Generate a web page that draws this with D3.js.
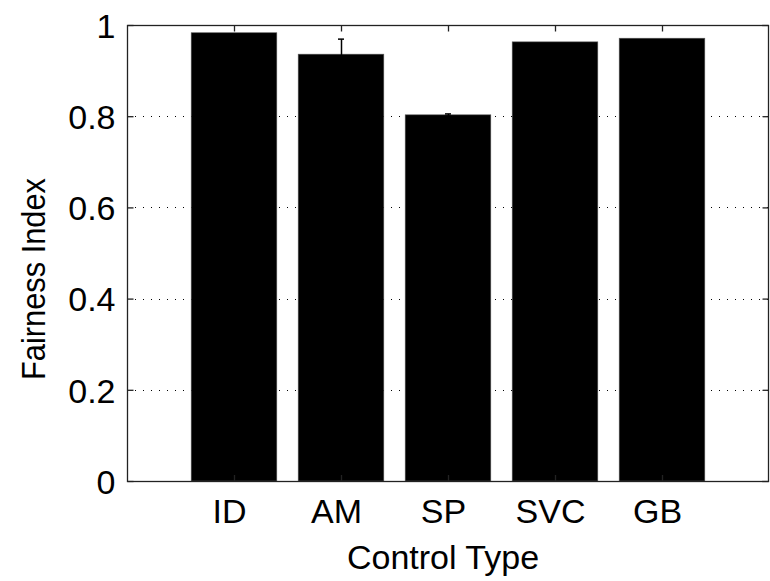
<!DOCTYPE html>
<html>
<head>
<meta charset="utf-8">
<script src="https://cdn.jsdelivr.net/npm/d3@7"></script>
<style>
  html, body { margin: 0; padding: 0; background: #fff; }
  svg { display: block; }
  text { font-family: "Liberation Sans", Arial, Helvetica, sans-serif; fill: #000; }
</style>
</head>
<body>
<svg id="chart" width="770" height="581"></svg>
<script>
const categories = ["ID", "AM", "SP", "SVC", "GB"];
const values = [0.983, 0.936, 0.803, 0.963, 0.971];
const errors = [0, 0.033, 0.002, 0, 0];
const yTicks = [0, 0.2, 0.4, 0.6, 0.8, 1];
const xLabel = "Control Type";
const yLabel = "Fairness Index";

(function () {
const svg = d3.select("#chart");
const mLeft = 127, mRight = 769, mTop = 25, mBottom = 481;
const fontSize = 34;

const x = d3.scaleLinear().domain([0, 6]).range([mLeft, mRight]);
const y = d3.scaleLinear().domain([0, 1]).range([mBottom, mTop]);
const barW = x(0.8) - x(0);

const data = categories.map((c, i) => ({ c, pos: i + 1, v: values[i], e: errors[i] }));

// grid lines (dotted)
svg.append("g").selectAll("line").data(yTicks.filter(t => t > 0 && t < 1)).join("line")
  .attr("x1", mLeft).attr("x2", mRight)
  .attr("y1", d => Math.round(y(d)) + 0.5).attr("y2", d => Math.round(y(d)) + 0.5)
  .attr("stroke", "#000").attr("stroke-width", 1).attr("stroke-dasharray", "1,7");

// bars
svg.append("g").selectAll("rect").data(data).join("rect")
  .attr("x", d => x(d.pos) - barW / 2)
  .attr("y", d => y(d.v))
  .attr("width", barW)
  .attr("height", d => y(0) - y(d.v))
  .attr("fill", "#000")
  .attr("stroke", "#555").attr("stroke-width", 0.6);

// error bars
const eb = svg.append("g").selectAll("g").data(data.filter(d => d.e > 0)).join("g");
eb.append("line")
  .attr("x1", d => Math.round(x(d.pos)) + 0.5).attr("x2", d => Math.round(x(d.pos)) + 0.5)
  .attr("y1", d => y(d.v - d.e)).attr("y2", d => y(d.v + d.e))
  .attr("stroke", "#000").attr("stroke-width", 1.5);
eb.append("line")
  .attr("x1", d => x(d.pos) - 3).attr("x2", d => x(d.pos) + 3)
  .attr("y1", d => y(d.v + d.e)).attr("y2", d => y(d.v + d.e))
  .attr("stroke", "#000").attr("stroke-width", 1.5);

// axes box
svg.append("rect")
  .attr("x", mLeft + 0.5).attr("y", mTop + 0.5)
  .attr("width", mRight - mLeft - 1).attr("height", mBottom - mTop)
  .attr("fill", "none").attr("stroke", "#222").attr("stroke-width", 1.3);

const fmt = d => d === 0 ? "0" : d === 1 ? "1" : d3.format(".1f")(d);

// y axis (left) with inward ticks
const yAxisL = svg.append("g").attr("transform", `translate(${mLeft + 0.5},0)`)
  .call(d3.axisLeft(y).tickValues(yTicks).tickSize(-6).tickPadding(12).tickFormat(fmt));
yAxisL.select(".domain").remove();
yAxisL.selectAll("line").attr("stroke", "#222").attr("stroke-width", 1.3);
yAxisL.selectAll("text").attr("font-size", fontSize).attr("font-family", "Liberation Sans, Arial, sans-serif").attr("dy", "0.36em").attr("fill", "#000");

// y axis (right)
const yAxisR = svg.append("g").attr("transform", `translate(${mRight - 0.5},0)`)
  .call(d3.axisRight(y).tickValues(yTicks).tickSize(-6).tickFormat(""));
yAxisR.select(".domain").remove();
yAxisR.selectAll("line").attr("stroke", "#222").attr("stroke-width", 1.3);

// x axis (bottom)
const xAxisB = svg.append("g").attr("transform", `translate(0,${mBottom})`)
  .call(d3.axisBottom(x).tickValues(data.map(d => d.pos)).tickSize(-6)
        .tickFormat((d, i) => categories[i]));
xAxisB.select(".domain").remove();
xAxisB.selectAll("line").attr("stroke", "#222").attr("stroke-width", 1.3);
xAxisB.selectAll("text").attr("font-size", fontSize).attr("font-family", "Liberation Sans, Arial, sans-serif")
  .attr("fill", "#000").attr("y", 42).attr("dy", 0).attr("dx", -5);

// x axis (top)
const xAxisT = svg.append("g").attr("transform", `translate(0,${mTop + 0.5})`)
  .call(d3.axisTop(x).tickValues(data.map(d => d.pos)).tickSize(-6).tickFormat(""));
xAxisT.select(".domain").remove();
xAxisT.selectAll("line").attr("stroke", "#222").attr("stroke-width", 1.3);

// axis labels
svg.append("text")
  .attr("x", 443).attr("y", 569)
  .attr("text-anchor", "middle").attr("font-size", fontSize)
  .text(xLabel);
svg.append("text")
  .attr("transform", `translate(45,279) rotate(-90)`)
  .attr("text-anchor", "middle").attr("font-size", fontSize)
  .attr("textLength", 202).attr("lengthAdjust", "spacingAndGlyphs")
  .text(yLabel);
})();
</script>
</body>
</html>
